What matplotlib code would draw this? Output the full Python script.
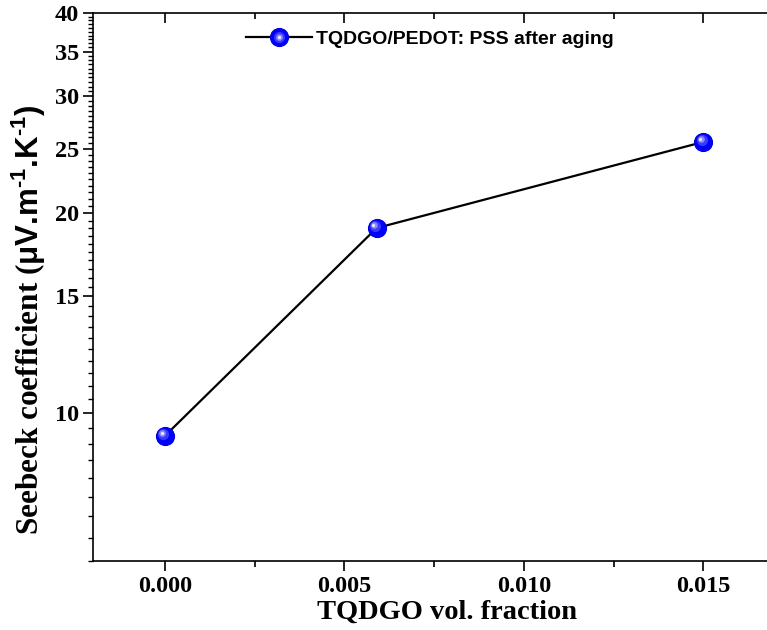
import matplotlib
matplotlib.use("Agg")
import matplotlib.pyplot as plt
from matplotlib.ticker import FixedLocator, MultipleLocator, NullFormatter, FuncFormatter
from matplotlib.transforms import offset_copy
from matplotlib.legend_handler import HandlerTuple

# ---- data ----
vol_fraction = [0.0, 0.0059, 0.015]
seebeck = [9.25, 19.0, 25.6]
series_label = "TQDGO/PEDOT: PSS after aging"
x_ticks = [0.0, 0.005, 0.010, 0.015]
x_tick_labels = ["0.000", "0.005", "0.010", "0.015"]
y_ticks = [10, 15, 20, 25, 30, 35, 40]
y_tick_labels = ["10", "15", "20", "25", "30", "35", "40"]
x_label = "TQDGO vol. fraction"
y_label = (r"Seebeck coefficient ($\mathrm{\mu}\text{V.m}^{\text{-1}}"
           r"\text{.K}^{\text{-1}}\text{)}$")

plt.rcParams['mathtext.fontset'] = 'custom'
plt.rcParams['mathtext.rm'] = 'Liberation Sans:bold'
plt.rcParams['mathtext.it'] = 'Liberation Sans:bold'
plt.rcParams['mathtext.bf'] = 'Liberation Sans:bold'
plt.rcParams['mathtext.sf'] = 'Liberation Sans:bold'

fig = plt.figure(figsize=(7.67, 6.30), dpi=100)
ax = fig.add_axes([93/767, 1-561/630, 675/767, (561-13)/630])

ax.set_yscale('log')
ax.set_xlim(-0.002, 0.0168)
ax.set_ylim(6, 40)

line, = ax.plot(vol_fraction, seebeck, color='black', lw=1.6, marker='o',
                ms=13, mfc='#0000ff', mec='#0000d8', mew=0.8, zorder=3)
hl_specs = [(8, '#3a3aff', -1.2), (4.8, '#8a8aff', -1.9), (2.3, '#e8e8ff', -2.3)]
hl_handles = []
for ms_, col, off in hl_specs:
    tr = offset_copy(ax.transData, fig=fig, x=off, y=-off, units='points')
    ax.plot(vol_fraction, seebeck, ls='none', marker='o', ms=ms_, mfc=col,
            mec='none', transform=tr, zorder=4)
    h, = ax.plot([], [], ls='none', marker='o', ms=ms_, mfc=col, mec='none')
    hl_handles.append(h)

ax.xaxis.set_major_locator(FixedLocator(x_ticks))
ax.xaxis.set_major_formatter(FuncFormatter(lambda v, p: x_tick_labels[x_ticks.index(min(x_ticks, key=lambda t: abs(t - v)))]))
ax.xaxis.set_minor_locator(MultipleLocator(0.0025))
ax.yaxis.set_major_locator(FixedLocator(y_ticks))
ax.yaxis.set_major_formatter(FuncFormatter(lambda v, p: y_tick_labels[y_ticks.index(min(y_ticks, key=lambda t: abs(t - v)))]))
ax.yaxis.set_minor_locator(MultipleLocator(0.5))
ax.yaxis.set_minor_formatter(NullFormatter())

for s in ax.spines.values():
    s.set_linewidth(1.2)

ax.tick_params(axis='x', which='major', direction='out', length=7, width=1.2, pad=3.5,
               top=True, labelsize=17.5)
ax.tick_params(axis='x', which='minor', direction='out', length=4, width=1.2, top=True)
ax.tick_params(axis='y', which='major', direction='out', length=7, width=1.2, pad=3,
               right=True, labelsize=17.5)
ax.tick_params(axis='y', which='minor', direction='out', length=3.5, width=1.0, right=False)
for t in ax.xaxis.get_major_ticks() + ax.xaxis.get_minor_ticks():
    t.tick2line.set_marker(3)  # inward on top
for t in ax.yaxis.get_major_ticks():
    t.tick2line.set_marker(4)  # inward on right

for lab in ax.get_xticklabels() + ax.get_yticklabels():
    lab.set_fontfamily('Liberation Serif')
    lab.set_fontweight('bold')

ax.set_xlabel(x_label, fontfamily='Liberation Serif', fontweight='bold', fontsize=20.5)
ax.set_ylabel(y_label, fontfamily='Liberation Serif', fontweight='bold', fontsize=22.5)
ax.xaxis.set_label_coords(0.524, -0.07)
ax.yaxis.set_label_coords(-0.066, 0.44)

leg = ax.legend([tuple([line] + hl_handles)], [series_label],
                handler_map={tuple: HandlerTuple(ndivide=1, pad=0)},
                loc='upper left', bbox_to_anchor=(0.2, 1.0), frameon=False,
                prop={'family': 'Liberation Sans', 'weight': 'bold', 'size': 14},
                handlelength=3.4, handletextpad=0.25, numpoints=1)

fig.savefig("out.png", dpi=100)
